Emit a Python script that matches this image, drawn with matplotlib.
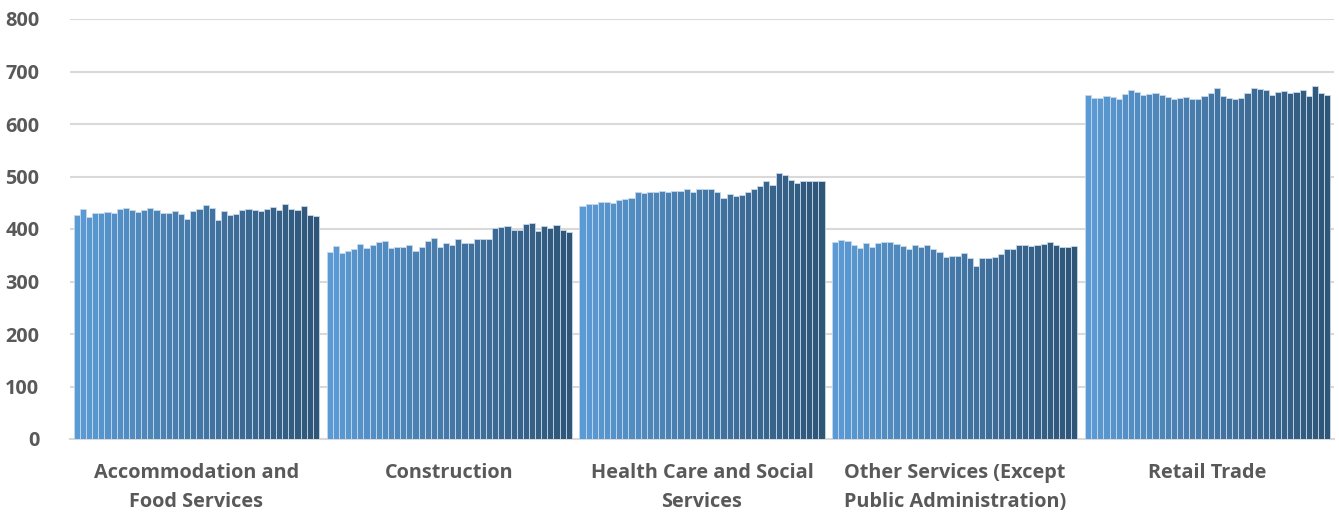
import numpy as np
import matplotlib
matplotlib.use("Agg")
import matplotlib.pyplot as plt
from matplotlib.colors import LinearSegmentedColormap

categories = ["Accommodation and\nFood Services", "Construction",
              "Health Care and Social\nServices",
              "Other Services (Except\nPublic Administration)", "Retail Trade"]

accommodation = [427, 439, 423, 430, 430, 432, 430, 439, 440, 437,
                 432, 437, 440, 437, 430, 430, 434, 428, 420, 434,
                 438, 445, 440, 417, 434, 426, 428, 436, 439, 437,
                 435, 438, 442, 437, 448, 439, 437, 444, 426, 424]
construction = [356, 368, 355, 359, 361, 372, 364, 370, 375, 378,
                363, 365, 366, 370, 359, 366, 377, 383, 365, 374,
                369, 381, 373, 374, 381, 381, 381, 402, 403, 405,
                398, 399, 409, 412, 396, 406, 402, 408, 398, 395]
health_care = [444, 447, 448, 451, 451, 449, 455, 458, 460, 470,
               469, 470, 471, 473, 471, 473, 473, 477, 470, 477,
               476, 477, 470, 459, 467, 462, 465, 470, 477, 482,
               491, 484, 506, 503, 494, 487, 492, 491, 491, 492]
other_services = [376, 379, 377, 369, 363, 373, 366, 373, 375, 376,
                  371, 367, 361, 369, 365, 369, 362, 356, 346, 349,
                  348, 355, 345, 329, 345, 345, 347, 352, 361, 362,
                  369, 369, 368, 369, 371, 376, 370, 366, 366, 367]
retail = [656, 649, 649, 653, 652, 648, 658, 664, 661, 655,
          657, 659, 655, 651, 648, 649, 652, 648, 648, 654,
          659, 669, 653, 650, 648, 650, 659, 668, 667, 665,
          656, 661, 662, 659, 661, 664, 654, 672, 659, 656]

series = [accommodation, construction, health_care, other_services, retail]
yticks = [0, 100, 200, 300, 400, 500, 600, 700, 800]

cmap = LinearSegmentedColormap.from_list("blues", ["#5B9BD5", "#2F5577"])
text_col = "#595959"

fig = plt.figure(figsize=(13.39, 5.14), dpi=100)
ax = fig.add_axes([70 / 1339, 75 / 514, 1264 / 1339, 420 / 514])

gap = 0.03
for i, vals in enumerate(series):
    n = len(vals)
    w = (1 - gap) / n
    x = i - 0.5 + gap / 2 + w * (np.arange(n) + 0.5)
    colors = cmap(np.linspace(0, 1, n))
    ax.bar(x, vals, width=w, color=colors, edgecolor="#C6D9EC",
           linewidth=0.6, zorder=3)

ax.set_xlim(-0.5, len(series) - 0.5)
ax.set_ylim(0, 800)
ax.set_yticks(yticks)
ax.set_yticklabels([str(v) for v in yticks], fontsize=14.3, fontweight="bold",
                   color=text_col, family="Open Sans")
ax.set_xticks(range(len(categories)))
ax.set_xticklabels(categories, fontsize=14.3, fontweight="bold",
                   color=text_col, family="Open Sans", linespacing=1.6)
ax.tick_params(axis="both", length=0)
ax.tick_params(axis="y", pad=22)
ax.tick_params(axis="x", pad=17)
ax.grid(axis="y", color="#D9D9D9", linewidth=1.5, zorder=0)
for s in ["top", "right", "left"]:
    ax.spines[s].set_visible(False)
ax.spines["bottom"].set_color("#D9D9D9")
ax.spines["bottom"].set_linewidth(1.5)

fig.savefig("out.png", dpi=100)
